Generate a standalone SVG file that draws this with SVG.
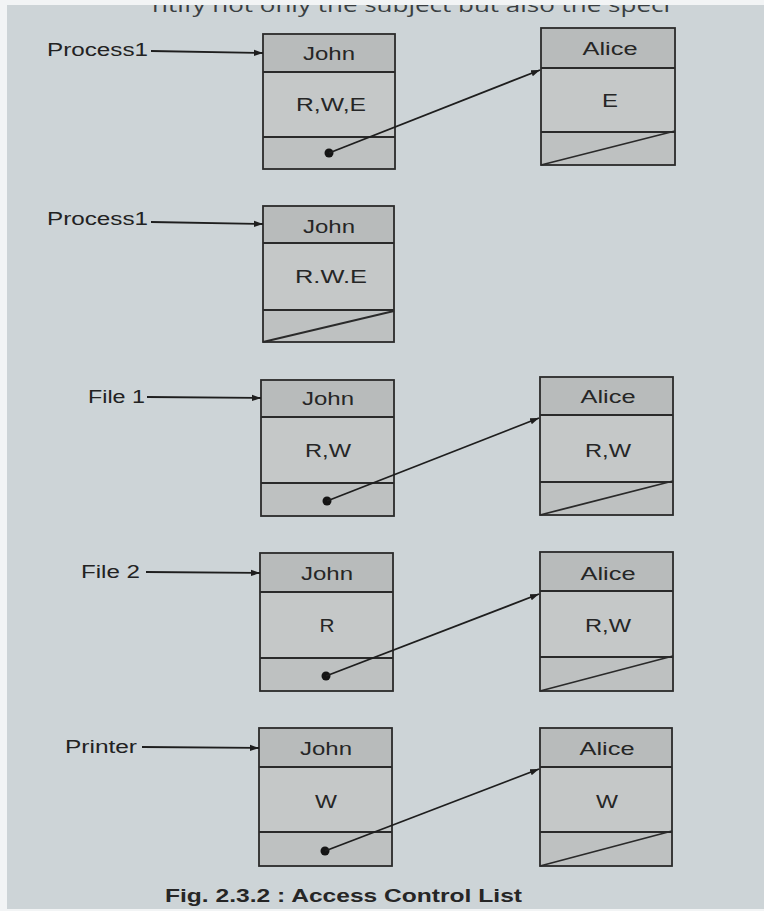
<svg xmlns="http://www.w3.org/2000/svg" width="764" height="911" viewBox="0 0 764 911">
<style>
.bg{fill:#cdd4d7}
.box{fill:#c5c8c8;stroke:#2a2a2a;stroke-width:1.8}
.hdr{fill:#b8bbbb;stroke:none}
.cell{fill:#bec1c1;stroke:none}
.div{stroke:#2a2a2a;stroke-width:1.8;fill:none}
.t{font-family:"Liberation Sans",Arial,sans-serif;font-size:18px;fill:#262626;text-anchor:middle}
.lbl{font-family:"Liberation Sans",Arial,sans-serif;font-size:18px;fill:#222}
.con{stroke:#1e1e1e;stroke-width:1.8;fill:none}
.dot{fill:#151515}
</style>
<defs>
<marker id="ah" markerWidth="10" markerHeight="8" refX="9" refY="4" orient="auto" markerUnits="userSpaceOnUse">
<path d="M0,0.8 L9,4 L0,7.2 Z" fill="#1e1e1e"/>
</marker>
</defs>
<rect class="bg" x="0" y="0" width="764" height="911"/>
<text x="152" y="12" font-family="'Open Sans',sans-serif" font-size="20" fill="#3a3f42" textLength="518" lengthAdjust="spacingAndGlyphs">ntify not only the subject but also the speci</text>
<rect x="0" y="0" width="764" height="5" fill="#f2f4f5"/>
<rect x="0" y="0" width="7" height="911" fill="#f2f4f5"/>
<rect x="0" y="909" width="764" height="2" fill="#f2f4f5"/>

<!-- Row 1 -->
<g id="p1-john">
<rect class="box" x="263" y="34" width="132" height="135"/>
<rect class="hdr" x="264" y="35" width="130" height="37"/>
<rect class="cell" x="264" y="137" width="130" height="31"/>
<line class="div" x1="263" y1="72" x2="395" y2="72"/>
<line class="div" x1="263" y1="137" x2="395" y2="137"/>
<text class="t" x="329" y="60" textLength="52" lengthAdjust="spacingAndGlyphs">John</text>
<text class="t" x="331" y="111" textLength="70" lengthAdjust="spacingAndGlyphs">R,W,E</text>
</g>
<g id="p1-alice">
<rect class="box" x="541" y="28" width="134" height="137"/>
<rect class="hdr" x="542" y="29" width="132" height="39"/>
<rect class="cell" x="542" y="132" width="132" height="32"/>
<line class="div" x1="541" y1="68" x2="675" y2="68"/>
<line class="div" x1="541" y1="132" x2="675" y2="132"/>
<line class="div" x1="541" y1="165" x2="675" y2="131"/>
<text class="t" x="610" y="55" textLength="55" lengthAdjust="spacingAndGlyphs">Alice</text>
<text class="t" x="610" y="107" textLength="16" lengthAdjust="spacingAndGlyphs">E</text>
</g>

<!-- Row 2 -->
<g id="p1b-john">
<rect class="box" x="263" y="206" width="131" height="136"/>
<rect class="hdr" x="264" y="207" width="129" height="36"/>
<rect class="cell" x="264" y="310" width="129" height="31"/>
<line class="div" x1="263" y1="243" x2="394" y2="243"/>
<line class="div" x1="263" y1="310" x2="394" y2="310"/>
<line class="div" x1="263" y1="342" x2="394" y2="311"/>
<text class="t" x="329" y="233" textLength="52" lengthAdjust="spacingAndGlyphs">John</text>
<text class="t" x="331" y="283" textLength="72" lengthAdjust="spacingAndGlyphs">R.W.E</text>
</g>

<!-- Row 3 -->
<g id="f1-john">
<rect class="box" x="261" y="380" width="133" height="136"/>
<rect class="hdr" x="262" y="381" width="131" height="36"/>
<rect class="cell" x="262" y="483" width="131" height="32"/>
<line class="div" x1="261" y1="417" x2="394" y2="417"/>
<line class="div" x1="261" y1="483" x2="394" y2="483"/>
<text class="t" x="328" y="405" textLength="52" lengthAdjust="spacingAndGlyphs">John</text>
<text class="t" x="328" y="457" textLength="46" lengthAdjust="spacingAndGlyphs">R,W</text>
</g>
<g id="f1-alice">
<rect class="box" x="540" y="377" width="133" height="138"/>
<rect class="hdr" x="541" y="378" width="131" height="37"/>
<rect class="cell" x="541" y="482" width="131" height="32"/>
<line class="div" x1="540" y1="415" x2="673" y2="415"/>
<line class="div" x1="540" y1="482" x2="673" y2="482"/>
<line class="div" x1="540" y1="515" x2="673" y2="481"/>
<text class="t" x="608" y="403" textLength="55" lengthAdjust="spacingAndGlyphs">Alice</text>
<text class="t" x="608" y="457" textLength="46" lengthAdjust="spacingAndGlyphs">R,W</text>
</g>

<!-- Row 4 -->
<g id="f2-john">
<rect class="box" x="260" y="553" width="133" height="138"/>
<rect class="hdr" x="261" y="554" width="131" height="38"/>
<rect class="cell" x="261" y="658" width="131" height="32"/>
<line class="div" x1="260" y1="592" x2="393" y2="592"/>
<line class="div" x1="260" y1="658" x2="393" y2="658"/>
<text class="t" x="327" y="580" textLength="52" lengthAdjust="spacingAndGlyphs">John</text>
<text class="t" x="327" y="632" textLength="15" lengthAdjust="spacingAndGlyphs">R</text>
</g>
<g id="f2-alice">
<rect class="box" x="540" y="552" width="133" height="139"/>
<rect class="hdr" x="541" y="553" width="131" height="38"/>
<rect class="cell" x="541" y="657" width="131" height="33"/>
<line class="div" x1="540" y1="591" x2="673" y2="591"/>
<line class="div" x1="540" y1="657" x2="673" y2="657"/>
<line class="div" x1="540" y1="691" x2="673" y2="656"/>
<text class="t" x="608" y="580" textLength="55" lengthAdjust="spacingAndGlyphs">Alice</text>
<text class="t" x="608" y="632" textLength="46" lengthAdjust="spacingAndGlyphs">R,W</text>
</g>

<!-- Row 5 -->
<g id="pr-john">
<rect class="box" x="259" y="728" width="133" height="138"/>
<rect class="hdr" x="260" y="729" width="131" height="38"/>
<rect class="cell" x="260" y="832" width="131" height="33"/>
<line class="div" x1="259" y1="767" x2="392" y2="767"/>
<line class="div" x1="259" y1="832" x2="392" y2="832"/>
<text class="t" x="326" y="755" textLength="52" lengthAdjust="spacingAndGlyphs">John</text>
<text class="t" x="326" y="808" textLength="22" lengthAdjust="spacingAndGlyphs">W</text>
</g>
<g id="pr-alice">
<rect class="box" x="540" y="728" width="132" height="138"/>
<rect class="hdr" x="541" y="729" width="130" height="38"/>
<rect class="cell" x="541" y="832" width="130" height="33"/>
<line class="div" x1="540" y1="767" x2="672" y2="767"/>
<line class="div" x1="540" y1="832" x2="672" y2="832"/>
<line class="div" x1="540" y1="866" x2="672" y2="831"/>
<text class="t" x="607" y="755" textLength="55" lengthAdjust="spacingAndGlyphs">Alice</text>
<text class="t" x="607" y="808" textLength="22" lengthAdjust="spacingAndGlyphs">W</text>
</g>

<!-- labels -->
<g id="lbl-process1a"><text class="lbl" x="47" y="56" textLength="101" lengthAdjust="spacingAndGlyphs">Process1</text></g>
<g id="lbl-process1b"><text class="lbl" x="47" y="225" textLength="101" lengthAdjust="spacingAndGlyphs">Process1</text></g>
<g id="lbl-file1"><text class="lbl" x="88" y="403" textLength="57" lengthAdjust="spacingAndGlyphs">File 1</text></g>
<g id="lbl-file2"><text class="lbl" x="81" y="578" textLength="59" lengthAdjust="spacingAndGlyphs">File 2</text></g>
<g id="lbl-printer"><text class="lbl" x="65" y="753" textLength="72" lengthAdjust="spacingAndGlyphs">Printer</text></g>

<!-- connectors -->
<g id="connectors">
<line class="con" x1="151" y1="51" x2="263" y2="53" marker-end="url(#ah)"/>
<line class="con" x1="151" y1="222" x2="263" y2="224" marker-end="url(#ah)"/>
<line class="con" x1="147" y1="397" x2="261" y2="398" marker-end="url(#ah)"/>
<line class="con" x1="146" y1="572" x2="260" y2="573" marker-end="url(#ah)"/>
<line class="con" x1="142" y1="747" x2="259" y2="748" marker-end="url(#ah)"/>

<circle class="dot" cx="329" cy="153" r="4.5"/>
<line class="con" x1="329" y1="153" x2="540" y2="70" marker-end="url(#ah)"/>
<circle class="dot" cx="327" cy="501" r="4.5"/>
<line class="con" x1="327" y1="501" x2="539" y2="418" marker-end="url(#ah)"/>
<circle class="dot" cx="326" cy="676" r="4.5"/>
<line class="con" x1="326" y1="676" x2="539" y2="594" marker-end="url(#ah)"/>
<circle class="dot" cx="325" cy="851" r="4.5"/>
<line class="con" x1="325" y1="851" x2="539" y2="769" marker-end="url(#ah)"/>
</g>

<text x="165" y="902" font-family="'Liberation Sans',Arial,sans-serif" font-size="18" font-weight="bold" fill="#262626" textLength="357" lengthAdjust="spacingAndGlyphs">Fig. 2.3.2 : Access Control List</text>
</svg>
